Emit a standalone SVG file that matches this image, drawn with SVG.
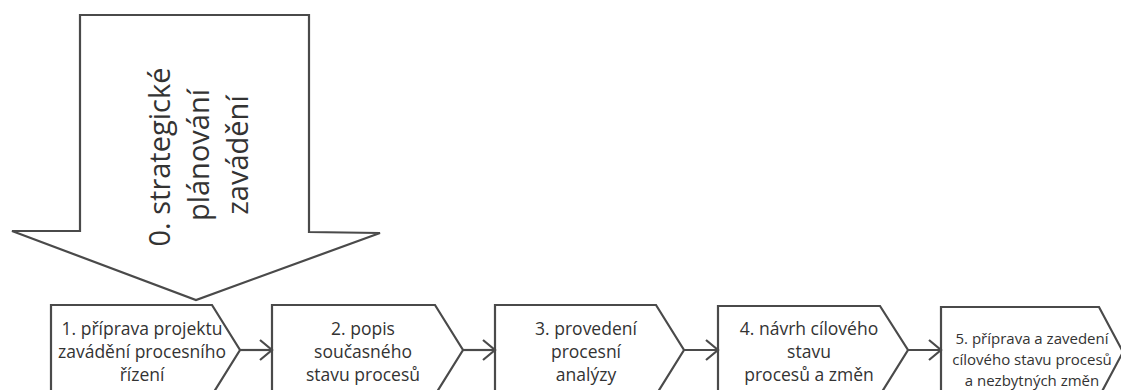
<svg xmlns="http://www.w3.org/2000/svg" width="1121" height="390" viewBox="0 0 1121 390">
<style>
.shape{fill:#fff;stroke:#4a4a4a;stroke-width:2.2;stroke-linejoin:miter}
.conn{fill:none;stroke:#4a4a4a;stroke-width:2.2}
.t{font-family:"Open Sans","Noto Sans",sans-serif;fill:#333;text-anchor:middle;font-size:17.5px}
.t5{font-size:15px}
.big{font-family:"Open Sans","Noto Sans",sans-serif;fill:#333;text-anchor:middle;font-size:29px}
</style>
<defs>
<marker id="ah" markerUnits="userSpaceOnUse" markerWidth="16" markerHeight="24" refX="13" refY="11" orient="auto">
<path d="M1,1 L13,11 L1,21" fill="none" stroke="#4a4a4a" stroke-width="2.2"/>
</marker>
</defs>
<rect width="1121" height="390" fill="#fff"/>
<g id="node0">
<path class="shape" d="M80,15 H309 V232 L380,233 L196,300 L12,231 L80,231 Z"/>
<text class="big" transform="translate(170,157) rotate(-90)">0. strategické</text>
<text class="big" transform="translate(209,155) rotate(-90)">plánování</text>
<text class="big" transform="translate(248,155) rotate(-90)">zavádění</text>
</g>
<g id="node1">
<path class="shape" d="M51,305 H212 L240,350 L212,395 H51 Z"/>
<text class="t" x="142" y="335">1. příprava projektu</text>
<text class="t" x="142" y="358">zavádění procesního</text>
<text class="t" x="142" y="381">řízení</text>
</g>
<g id="node2">
<path class="shape" d="M272,305 H435 L463,350 L435,395 H272 Z"/>
<text class="t" x="363" y="335">2. popis</text>
<text class="t" x="363" y="358">současného</text>
<text class="t" x="363" y="381">stavu procesů</text>
</g>
<g id="node3">
<path class="shape" d="M495,305 H656 L684,350 L656,395 H495 Z"/>
<text class="t" x="586" y="335">3. provedení</text>
<text class="t" x="586" y="358">procesní</text>
<text class="t" x="586" y="381">analýzy</text>
</g>
<g id="node4">
<path class="shape" d="M718,306 H880 L908,350 L880,395 H718 Z"/>
<text class="t" x="809" y="335">4. návrh cílového</text>
<text class="t" x="809" y="358">stavu</text>
<text class="t" x="809" y="381">procesů a změn</text>
</g>
<g id="node5">
<path class="shape" d="M941,307 H1099 L1123,352 L1099,397 H941 Z"/>
<text class="t t5" x="1032" y="344">5. příprava a zavedení</text>
<text class="t t5" x="1032" y="365">cílového stavu procesů</text>
<text class="t t5" x="1032" y="386">a nezbytných změn</text>
</g>
<g id="connectors">
<line class="conn" x1="240" y1="350" x2="272" y2="350" marker-end="url(#ah)"/>
<line class="conn" x1="463" y1="350" x2="495" y2="350" marker-end="url(#ah)"/>
<line class="conn" x1="684" y1="350" x2="718" y2="350" marker-end="url(#ah)"/>
<line class="conn" x1="908" y1="350" x2="941" y2="350" marker-end="url(#ah)"/>
</g>
</svg>
